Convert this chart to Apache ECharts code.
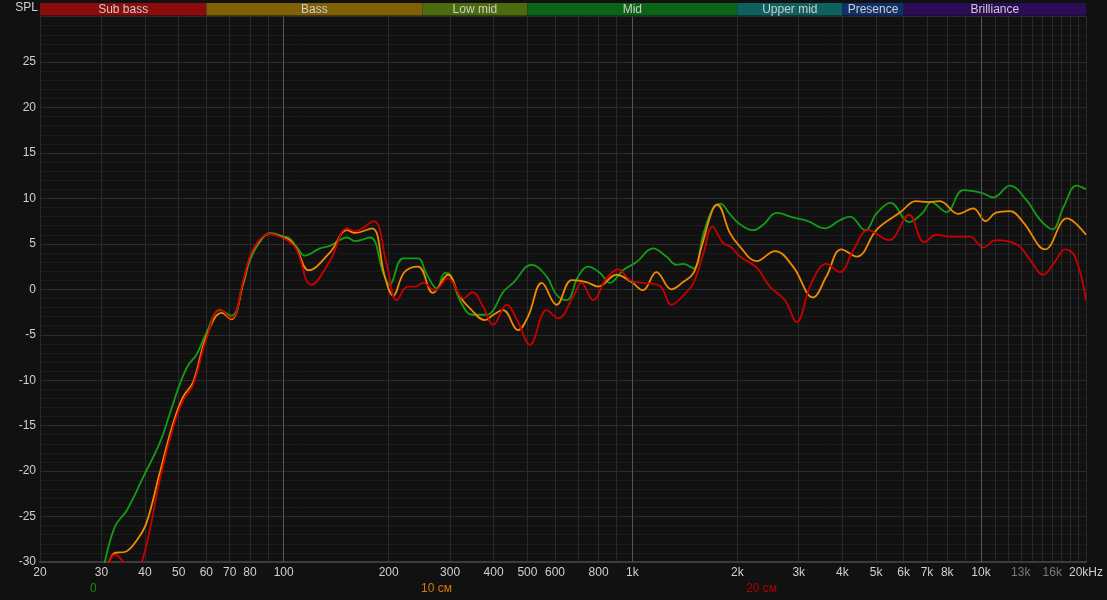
<!DOCTYPE html>
<html>
<head>
<meta charset="utf-8">
<script src="https://cdn.jsdelivr.net/npm/echarts@6/dist/echarts.min.js"></script>
<style>
  html, body { margin: 0; padding: 0; background: #111111; }
  #chart { width: 1107px; height: 600px; }
</style>
</head>
<body>
<div id="chart"></div>
<script>
// frequency bands shown in the strip above the plot
var bandNames = ['Sub bass', 'Bass', 'Low mid', 'Mid', 'Upper mid', 'Presence', 'Brilliance'];
var bandEdges = [20, 60, 250, 500, 2000, 4000, 6000, 20000];
var bandColors = ['#8a0c0c', '#7f6007', '#4b6b0c', '#0c6416', '#0e615e', '#10306a', '#2c0c57'];

// axis ticks
var xGridValues = [20, 30, 40, 50, 60, 70, 80, 90, 100, 200, 300, 400, 500, 600, 700, 800, 900,
    1000, 2000, 3000, 4000, 5000, 6000, 7000, 8000, 9000, 10000, 11000, 12000, 13000, 14000,
    15000, 16000, 17000, 18000, 19000, 20000];
var xLabelValues = [20, 30, 40, 50, 60, 70, 80, 100, 200, 300, 400, 500, 600, 800, 1000,
    2000, 3000, 4000, 5000, 6000, 7000, 8000, 10000, 13000, 16000, 20000];
var decadeLines = [100, 1000, 10000];

var seriesNames = ['0', '10 см', '20 см'];

// [Hz, dB]
var curve0 = [[30.5,-30.5],[32.8,-26.1],[35.5,-24.3],[39.6,-20.6],[44.1,-16.9],[47.2,-13.6],[50.5,-10.3],
    [53.3,-8.3],[56.2,-7.2],[60,-4.8],[65.6,-2.3],[70.8,-2.9],[76.6,0.6],[80,3.2],[85.4,5.2],[91.2,6.2],
    [100,5.8],[104,5.6],[108.8,4.7],[115,3.7],[127,4.5],[136,4.8],[152,5.7],[160,5.3],[177,5.7],[193,1.8],
    [201,0.5],[220,3.4],[243,3.4],[256,1.8],[275,0.1],[290,1.8],[300,1.6],[320,-1.2],[348,-2.8],[382,-2.8],
    [399,-2.3],[426,-0.3],[455,0.7],[514,2.7],[568,1.4],[606,-0.6],[648,-1.2],[699,1.4],[746,2.5],[808,1.8],
    [862,0.7],[940,2.1],[1028,3.0],[1146,4.5],[1252,3.6],[1336,2.7],[1398,2.8],[1498,2.3],[1600,6.2],
    [1714,9.1],[1792,9.4],[1884,8.5],[2012,7.3],[2220,6.5],[2372,7.1],[2592,8.4],[2890,7.9],[3190,7.5],
    [3560,6.7],[3936,7.6],[4212,8.0],[4652,6.5],[5030,8.4],[5500,9.5],[6218,7.4],[6798,8.4],[7196,9.6],
    [7954,8.5],[8888,10.9],[10040,10.6],[10840,10.1],[12100,11.4],[13500,9.8],[14800,7.6],[16020,6.6],
    [17260,9.1],[18800,11.4],[20000,11.0]];

var curve10 = [[31.3,-30.5],[32.8,-29],[35,-28.9],[37.9,-27.6],[40.4,-25.7],[44.1,-20.2],[48.2,-14.7],
    [51.5,-11.8],[55,-10.2],[60,-5.2],[66.4,-2.6],[70.8,-3.3],[76.6,0.8],[80,3.5],[85.4,5.4],[91.2,6.1],
    [100,5.7],[104,5.4],[108.8,4.5],[118,2.1],[136,4.1],[152,6.5],[160,6.2],[179,6.7],[195,1.4],[206,-0.7],
    [222,1.9],[243,2.5],[268,-0.4],[296,1.6],[320,-0.8],[342,-2.1],[378,-3.4],[399,-2.8],[426,-2.3],
    [470,-4.5],[502,-3.0],[550,0.7],[606,-1.7],[670,1.0],[738,0.8],[798,0.3],[900,1.6],[994,0.8],
    [1072,-0.1],[1172,1.9],[1294,0],[1398,0.8],[1498,1.8],[1580,4.7],[1696,8.7],[1752,9.3],[1904,6.2],
    [2034,4.7],[2270,3.1],[2564,4.2],[2890,2.5],[3296,-0.9],[3600,1.4],[3978,4.4],[4398,3.6],[5030,6.6],
    [5880,8.5],[6500,9.7],[7040,9.6],[7612,9.7],[8600,8.3],[9500,8.9],[10300,7.5],[11000,8.4],[12100,8.6],
    [13200,7.4],[15280,4.4],[17640,7.8],[20000,6.0]];

var curve20 = [[31,-31],[32.8,-29.2],[35.5,-30.5],[37.5,-32],[39.6,-29.4],[41.3,-26.5],[44.1,-21],
    [48.2,-15.2],[51.5,-12.2],[55,-10.5],[60,-5.5],[65.6,-2.2],[70.8,-3.2],[76.6,1.0],[80,3.6],[85.4,5.5],
    [91.2,6.1],[100,5.6],[104,5.2],[108.8,4.4],[120,0.5],[136,3.2],[152,6.7],[160,6.4],[181,7.5],[197,2.9],
    [211,-1.2],[227,0.3],[238,0.3],[251,0.7],[271,-0.1],[296,1.2],[328,-1.0],[348,-0.3],[373,-1.9],
    [399,-3.9],[436,-1.7],[470,-3.6],[508,-6.1],[568,-2.3],[612,-3.2],[677,-0.8],[714,0.7],[772,-1.2],
    [842,1.2],[912,2.2],[984,1.0],[1072,0.7],[1198,0.4],[1294,-1.7],[1430,-0.3],[1498,0.7],[1600,4.0],
    [1696,6.9],[1820,5.1],[1926,4.6],[2034,3.6],[2270,2.4],[2478,0.3],[2740,-1.2],[2956,-3.6],[3262,0.7],
    [3600,2.8],[3936,1.9],[4302,4.3],[4750,6.5],[5438,5.4],[6218,8.2],[6868,5.2],[7456,6.0],[8120,5.8],
    [9280,5.8],[10150,4.6],[11000,5.4],[12700,4.9],[13840,3.2],[15080,1.6],[16200,2.9],[17420,4.4],
    [18600,3.6],[20000,-1.2]];

var chart = echarts.init(document.getElementById('chart'));

var font = 'Liberation Sans, Arial, sans-serif';

function fmtFreq(v) {
    if (v >= 20000) return '20kHz';
    if (v >= 1000) return (v / 1000) + 'k';
    return String(v);
}

var bandData = bandNames.map(function (name, i) {
    return [
        { name: name, xAxis: bandEdges[i], itemStyle: { color: bandColors[i], opacity: 1 } },
        { xAxis: bandEdges[i + 1] }
    ];
});

function legendAt(i, left, color) {
    return {
        data: [seriesNames[i]], left: left, bottom: 0, icon: 'none',
        itemWidth: 0, itemGap: 0, selectedMode: false,
        textStyle: { color: color, fontSize: 12, fontFamily: font }
    };
}

var option = {
    backgroundColor: '#111111',
    animation: false,
    textStyle: { fontFamily: font },
    grid: [
        { left: 40, right: 21, top: 16.6, bottom: 38, show: false },
        { left: 40, right: 21, top: 3, height: 12.5, show: false }
    ],
    legend: [
        legendAt(0, 80, '#0f8f0f'),
        legendAt(1, 411, '#d97a00'),
        legendAt(2, 736, '#b00000')
    ],
    xAxis: [
        {
            type: 'log', gridIndex: 0, min: 20, max: 20000,
            axisLine: { show: true, onZero: false, lineStyle: { color: '#3c3c3c', width: 2 } },
            axisTick: { show: false, customValues: xGridValues },
            axisLabel: {
                customValues: xLabelValues,
                formatter: fmtFreq,
                margin: 5,
                fontSize: 12,
                fontFamily: font,
                color: function (v) { return (v == 13000 || v == 16000) ? '#7a7a7a' : '#d0d0d0'; }
            },
            splitLine: { show: true, lineStyle: { color: '#2a2a2a', width: 1 } }
        },
        {
            type: 'log', gridIndex: 1, min: 20, max: 20000, show: false
        }
    ],
    yAxis: [
        {
            type: 'value', gridIndex: 0, min: -30, max: 30, interval: 5,
            name: 'SPL', nameLocation: 'end', nameGap: 3,
            nameTextStyle: { color: '#d0d0d0', fontSize: 12, align: 'right', padding: [0, 2, 0, 0], fontFamily: font },
            axisLine: { show: false },
            axisTick: { show: false },
            axisLabel: { color: '#d0d0d0', fontSize: 12, margin: 4, showMaxLabel: false, fontFamily: font },
            splitLine: { show: true, lineStyle: { color: '#2c2c2c', width: 1 } },
            minorTick: { show: false, splitNumber: 5 },
            minorSplitLine: { show: true, lineStyle: { color: '#1b1b1b', width: 1 } }
        },
        { type: 'value', gridIndex: 1, min: 0, max: 1, show: false }
    ],
    series: [
        {
            name: 'bands', type: 'line', xAxisIndex: 1, yAxisIndex: 1, data: [],
            silent: true,
            markArea: {
                silent: true,
                label: { show: true, position: 'inside', color: '#cccccc', fontSize: 12, fontFamily: font },
                data: bandData
            }
        },
        {
            name: 'decades', type: 'line', xAxisIndex: 0, yAxisIndex: 0, data: [],
            silent: true,
            markLine: {
                silent: true, symbol: 'none', label: { show: false },
                lineStyle: { color: '#555555', width: 1, type: 'solid' },
                data: decadeLines.map(function (v) { return { xAxis: v }; })
            }
        },
        {
            name: seriesNames[0], type: 'line', data: curve0, smooth: 0.4, showSymbol: false,
            lineStyle: { color: '#149c14', width: 1.8 }, itemStyle: { color: '#149c14' }
        },
        {
            name: seriesNames[1], type: 'line', data: curve10, smooth: 0.4, showSymbol: false,
            lineStyle: { color: '#f28a00', width: 1.8 }, itemStyle: { color: '#f28a00' }
        },
        {
            name: seriesNames[2], type: 'line', data: curve20, smooth: 0.4, showSymbol: false,
            lineStyle: { color: '#c80000', width: 1.8 }, itemStyle: { color: '#c80000' }
        }
    ]
};

chart.setOption(option);
</script>
</body>
</html>
